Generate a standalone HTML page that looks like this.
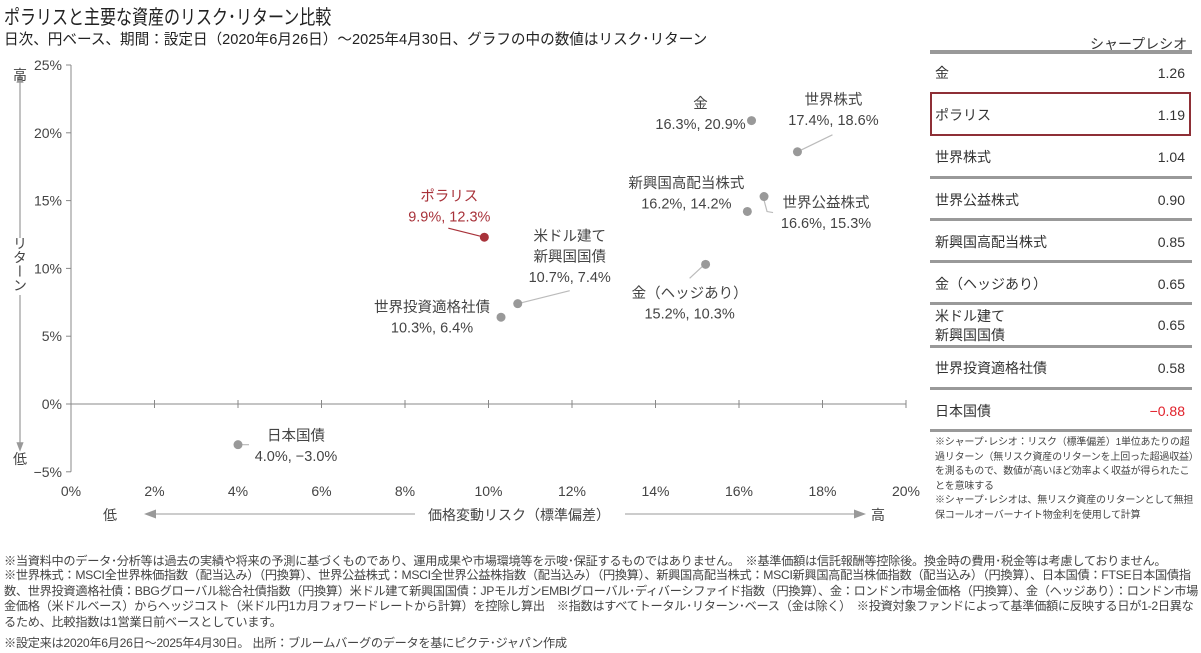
<!DOCTYPE html>
<html><head><meta charset="utf-8">
<style>
body{margin:0;width:1201px;height:653px;background:#fff;overflow:hidden;font-family:"Liberation Sans","Noto Sans CJK JP",sans-serif;color:#333;position:relative}
.t{position:absolute;white-space:nowrap}
.row{position:absolute;left:935px;width:252px;font-size:14px;color:#333}
.row .v{position:absolute;right:2px}
.sep{position:absolute;left:930px;width:262px;height:3px;background:#999}
.fn{position:absolute;left:4px;font-size:12.2px;color:#444;white-space:nowrap;letter-spacing:-0.3px}
</style></head><body>
<div class="t" style="left:4px;top:1px;font-size:20px;color:#222;transform:scaleX(0.8);transform-origin:left top">ポラリスと主要な資産のリスク･リターン比較</div>
<div class="t" style="left:4px;top:28px;font-size:14.6px;color:#222">日次、円ベース、期間：設定日（2020年6月26日）～2025年4月30日、グラフの中の数値はリスク･リターン</div>

<svg id="chart" width="920" height="540" style="position:absolute;left:0;top:0" font-family="Liberation Sans, Noto Sans CJK JP, sans-serif"></svg>

<div class="t" style="left:1090px;top:34px;font-size:14px">シャープレシオ</div>
<div class="sep" style="top:50px;height:4px"></div>
<div id="table"></div>
<div style="position:absolute;left:930px;top:92px;width:257px;height:40px;border:2px solid #8e2f36"></div>
<div class="t" style="left:935px;top:436px;font-size:10px;letter-spacing:-0.2px;line-height:14.5px;color:#444;white-space:normal;width:262px">※シャープ･レシオ：リスク（標準偏差）1単位あたりの超過リターン（無リスク資産のリターンを上回った超過収益）を測るもので、数値が高いほど効率よく収益が得られたことを意味する<br>※シャープ･レシオは、無リスク資産のリターンとして無担保コールオーバーナイト物金利を使用して計算</div>

<div class="fn" style="top:551px">※当資料中のデータ･分析等は過去の実績や将来の予測に基づくものであり、運用成果や市場環境等を示唆･保証するものではありません。　※基準価額は信託報酬等控除後。換金時の費用･税金等は考慮しておりません。</div>
<div class="fn" style="top:568px;line-height:15.5px;white-space:normal;width:1195px">※世界株式：MSCI全世界株価指数（配当込み）（円換算）、世界公益株式：MSCI全世界公益株指数（配当込み）（円換算）、新興国高配当株式：MSCI新興国高配当株価指数（配当込み）（円換算）、日本国債：FTSE日本国債指数、世界投資適格社債：BBGグローバル総合社債指数（円換算）米ドル建て新興国国債：JPモルガンEMBIグローバル･ディバーシファイド指数（円換算）、金：ロンドン市場金価格（円換算）、金（ヘッジあり）：ロンドン市場金価格（米ドルベース）からヘッジコスト（米ドル円1カ月フォワードレートから計算）を控除し算出　※指数はすべてトータル･リターン･ベース（金は除く）　※投資対象ファンドによって基準価額に反映する日が1-2日異なるため、比較指数は1営業日前ベースとしています。</div>
<div class="fn" style="top:633px">※設定来は2020年6月26日～2025年4月30日。 出所：ブルームバーグのデータを基にピクテ･ジャパン作成</div>

<script>
const names=["金","世界株式","新興国高配当株式","世界公益株式","米ドル建て\n新興国国債","金（ヘッジあり）","世界投資適格社債","ポラリス","日本国債"];
const riskVals=[16.3,17.4,16.2,16.6,10.7,15.2,10.3,9.9,4.0];
const returnVals=[20.9,18.6,14.2,15.3,7.4,10.3,6.4,12.3,-3.0];
const xTicks=[0,2,4,6,8,10,12,14,16,18,20];
const yTicks=[25,20,15,10,5,0,-5];
const sharpeNames=["金","ポラリス","世界株式","世界公益株式","新興国高配当株式","金（ヘッジあり）","米ドル建て\n新興国国債","世界投資適格社債","日本国債"];
const sharpeVals=[1.26,1.19,1.04,0.90,0.85,0.65,0.65,0.58,-0.88];

const X=v=>71+v*41.75, Y=v=>404-v*13.56;
const NS="http://www.w3.org/2000/svg";
const svg=document.getElementById('chart');
function el(tag,attrs,parent){const e=document.createElementNS(NS,tag);for(const k in attrs)e.setAttribute(k,attrs[k]);(parent||svg).appendChild(e);return e;}
let a=el('line',{x1:X(0),y1:Y(25),x2:X(0),y2:Y(-5),stroke:'#888','stroke-width':1});


a=el('line',{x1:X(0),y1:Y(0),x2:X(20),y2:Y(0),stroke:'#888','stroke-width':1});


yTicks.forEach(v=>{
 el('line',{x1:X(0)-5,y1:Y(v),x2:X(0),y2:Y(v),stroke:'#888'});
 const t=el('text',{x:X(0)-9,y:Y(v)+5,'text-anchor':'end','font-size':14,fill:'#444'});
 t.textContent=(v<0?'−'+(-v):v)+'%';
 
 
});
xTicks.forEach(v=>{
 if(v>0) el('line',{x1:X(v),y1:Y(0)-4,x2:X(v),y2:Y(0)+4,stroke:'#888'});
 const t=el('text',{x:X(v),y:496,'text-anchor':'middle','font-size':14,fill:'#444'});
 t.textContent=v+'%';
 
 
});
const defs=el('defs',{});
const m=el('marker',{id:'ar',markerWidth:8,markerHeight:8,refX:4,refY:4,orient:'auto-start-reverse'},defs);
el('path',{d:'M0,1 L8,4 L0,7 Z',fill:'#999'},m);
el('line',{x1:20,y1:78,x2:20,y2:238,stroke:'#999','stroke-width':1.2,'marker-start':'url(#ar)'});
el('line',{x1:20,y1:295,x2:20,y2:447,stroke:'#999','stroke-width':1.2,'marker-end':'url(#ar)'});
el('line',{x1:150,y1:514,x2:415,y2:514,stroke:'#bbb','stroke-width':1.5,'marker-start':'url(#ar)'});
el('line',{x1:625,y1:514,x2:860,y2:514,stroke:'#bbb','stroke-width':1.5,'marker-end':'url(#ar)'});
function txt(s,x,y,sz,fill,anchor,name){const t=el('text',{x:x,y:y,'font-size':sz,fill:fill,'text-anchor':anchor||'middle'});t.textContent=s;return t;}
txt('高',20,80,14,'#444','middle','y-axis-high');
txt('低',20,464,14,'#444','middle','y-axis-low');
const yt=el('text',{x:20,y:236,'font-size':14,fill:'#444','writing-mode':'tb','glyph-orientation-vertical':0});
yt.textContent='リターン';


txt('低',110,520,14,'#444','middle','x-axis-low');
txt('価格変動リスク（標準偏差）',519,520,14,'#444','middle','x-axis-title');
txt('高',878,520,14,'#444','middle','x-axis-high');
const lab=[[-51,-7,null],[36,-42,[[0,0],[35,-17]]],[-61,-18,null],[62,16,[[-1,0],[3,15],[9,16]]],[52,-47,[[0,0],[52,-13]]],[-16,39,[[-2,1],[-16,14]]],[-69,0,null],[-35,-31,[[0,0],[-36,-9]]],[58,1,[[0,0],[11,0]]]];
names.forEach((n,i)=>{
 const px=X(riskVals[i]),py=Y(returnVals[i]);
 const red=n==="ポラリス";
 const c=red?'#a8323a':'#444';
 const L=lab[i];
 if(L[2]){const pts=L[2].map(p=>(px+p[0])+','+(py+p[1])).join(' ');el('polyline',{points:pts,fill:'none',stroke:red?'#a8323a':'#bbb','stroke-width':1.2});}
 const d=el('circle',{cx:px,cy:py,r:4.5,fill:red?'#a8323a':'#999'});
 
 
 const lines=n.split('\n').concat([riskVals[i].toFixed(1)+'%, '+(returnVals[i]<0?'−'+(-returnVals[i]).toFixed(1):returnVals[i].toFixed(1))+'%']);
 const top=py+L[1]-(lines.length-1)*20.5/2;
 lines.forEach((s,k)=>{txt(s,px+L[0],top+k*20.5+5,14.5,c,'middle','point-label');});
});
const tb=document.getElementById('table');
const sepYs=[176,218,260,302,345,387,429];
sharpeNames.forEach((n,i)=>{
 const cy=73+i*42.2;
 const r=document.createElement('div');
 r.className='row';
 
 
 const two=n.includes('\n');
 r.style.top=(cy-(two?19:9))+'px';
 r.style.lineHeight='19px';
 r.innerHTML='<span>'+n.replace('\n','<br>')+'</span><span class="v" style="top:'+(two?9:0)+'px;color:'+(sharpeVals[i]<0?'#e0202a':'#333')+'">'+(sharpeVals[i]<0?'−'+(-sharpeVals[i]).toFixed(2):sharpeVals[i].toFixed(2))+'</span>';
 tb.appendChild(r);
});
sepYs.forEach(y=>{const s=document.createElement('div');s.className='sep';s.style.top=y+'px';


tb.appendChild(s);});
</script>
</body></html>
